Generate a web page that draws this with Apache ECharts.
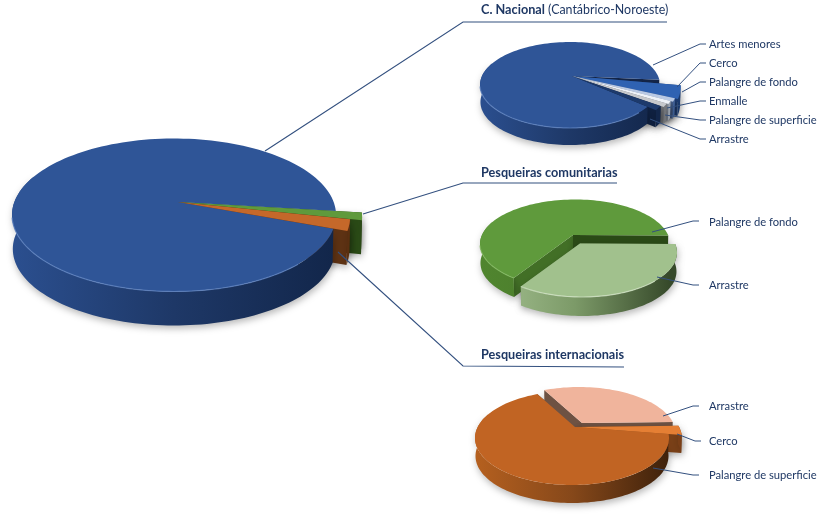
<!DOCTYPE html>
<html><head><meta charset="utf-8">
<style>html,body{margin:0;padding:0;background:#fff}#c{width:824px;height:514px}</style>
<script src="https://cdn.jsdelivr.net/npm/echarts@6/dist/echarts.min.js"></script>
</head><body><div id="c"></div>
<script>
// ---------- data ----------
const mainCategories = ['Pesqueiras comunitarias', 'Pesqueiras internacionais', 'C. Nacional'];
const mainValues = [1.4, 2.3, 96.3];
const nacionalCategories = ['Cerco', 'Palangre de fondo', 'Enmalle', 'Palangre de superficie', 'Arrastre', 'Artes menores'];
const nacionalValues = [5.5, 1.1, 1.0, 1.2, 1.6, 89.6];
const comunitariasCategories = ['Arrastre', 'Palangre de fondo'];
const comunitariasValues = [39.2, 60.8];
const internacionaisCategories = ['Arrastre', 'Cerco', 'Palangre de superficie'];
const internacionaisValues = [26.7, 2.8, 70.5];

// ---------- styles / layout ----------
const BL = {top:'#2f5597', wall:['#2b4f8f','#1e3867','#12264a'], edge:'#14264a', rim:'#5f83c0'};
const pies = [
 {name:'main', cats:mainCategories, vals:mainValues, start:-3,
  cx:174, cy:215, rx:162, ry:76.5, ax:178, ay:202, depth:34,
  looks:[
   {top:'#5f9a3c', wall:['#2f5019','#2b4a17','#264213'], edge:'#2a4a16', reach:1.165},
   {top:'#c5682a', wall:['#6a3714','#5f3211','#5a2f10'], edge:'#5e3213', reach:1.09},
   {...BL}]},
 {name:'nacional', cats:nacionalCategories, vals:nacionalValues, start:-7,
  cx:570, cy:85, rx:90, ry:43, ax:572, ay:76, depth:17,
  looks:[
   {top:'#2f62b2', wall:['#1d3f78','#1d3f78','#1b3a6d'], edge:'#1f4079', reach:1.235, pad:5},
   {top:'#b9c9e4', wall:['#3f5f95','#3f5f95','#3f5f95'], edge:'#47618f', reach:1.2},
   {top:'#eef2f8', wall:['#9fa7b3','#9fa7b3','#9fa7b3'], edge:'#8f98a6', reach:1.17},
   {top:'#c6c8cc', wall:['#74777c','#74777c','#74777c'], edge:'#74777c', reach:1.15},
   {top:'#1d3a6c', wall:['#12264a','#12264a','#12264a'], edge:'#0f2142', reach:1.11},
   {...BL}]},
 {name:'comunitarias', cats:comunitariasCategories, vals:comunitariasValues, start:-11,
  cx:575, cy:244, rx:95, ry:44.5, ax:573, ay:235, depth:19,
  looks:[
   {top:'#a1c18d', wall:['#a6c293','#7c9a68','#36492a'], edge:'#6d8a5a', rim:'#d3e4c7', off:[7,8.5]},
   {top:'#5f9a3c', wall:['#50852f','#4a7a2b','#3d6a22'], edge:'#2a4a16', edge2:'#426f26', rim:'#86bb64'}]},
 {name:'internacionais', cats:internacionaisCategories, vals:internacionaisValues, start:249,
  cx:572, cy:438, rx:97, ry:47, ax:575, ay:427, depth:18,
  looks:[
   {top:'#f0b49c', wall:['#6e5243','#6e5243','#6e5243'], edge:'#6e5243', off:[7,-4]},
   {top:'#e57f34', wall:['#8a4a1a','#83451a','#7a3f17'], edge:'#7a4017', reach:1.14},
   {top:'#c16423', wall:['#b5601f','#86481a','#3e210b'], edge:'#5b3010', rim:'#e2935a'}]}
];
const titles = [
 {bold:'C. Nacional', rest:' (Cantábrico-Noroeste)', x:481, y:10, line:[[265,151],[463,22],[667,22]]},
 {bold:'Pesqueiras comunitarias', rest:'', x:481, y:173, line:[[363,214],[463,183],[617,183]]},
 {bold:'Pesqueiras internacionais', rest:'', x:481, y:355, line:[[338,252],[463,366],[624,367]]}
];
// category label → [text y, leader start, elbow]
const labels = [
 {cats:nacionalCategories, items:{
  'Artes menores':[44,[653,65],[700,44]], 'Cerco':[63,[677,87],[700,63]],
  'Palangre de fondo':[82,[682,92],[700,82]], 'Enmalle':[101,[667,108],[700,101]],
  'Palangre de superficie':[120,[665,115],[700,120]], 'Arrastre':[139,[650,119],[700,139]]}},
 {cats:comunitariasCategories, items:{
  'Palangre de fondo':[222,[652,232],[693,221]], 'Arrastre':[285,[657,277],[693,285]]}},
 {cats:internacionaisCategories, items:{
  'Arrastre':[406,[663,416],[693,406]], 'Cerco':[441,[677,434],[695,441]],
  'Palangre de superficie':[475,[653,468],[693,475]]}}
];
const INK = '#1f3864', LINE = '#33507f';

// ---------- geometry ----------
const rad = d => d * Math.PI / 180;
pies.forEach(p => {
  const total = p.vals.reduce((a, b) => a + b, 0);
  let a = p.start;
  p.spans = p.vals.map(v => { const s = [a, a + v / total * 360]; a = s[1]; return s; });
  p.big = p.vals.indexOf(Math.max(...p.vals));
});
function pt(p, k, deg, down) {
  const L = p.looks[k], f = L.reach || 1, o = L.off || [0, 0];
  const rx = p.cx + p.rx * Math.cos(rad(deg)), ry = p.cy + p.ry * Math.sin(rad(deg));
  let x = p.ax + f * (rx - p.ax) + o[0], y = p.ay + f * (ry - p.ay) + o[1];
  if (down) { x = p.cx + (x - p.cx) * 0.995; y += p.depth; }
  return [x, y];
}
function apex(p, k, down) {
  const o = p.looks[k].off || [0, 0];
  return [p.ax + o[0], p.ay + o[1] + (down ? p.depth : 0)];
}
function arc(p, k, a, b, down) {
  const out = [], n = Math.max(2, Math.ceil((b - a) / 2));
  for (let i = 0; i <= n; i++) out.push(pt(p, k, a + (b - a) * i / n, down));
  return out;
}
function span(p, k) { const s = p.spans[k]; return [s[0] + (p.looks[k].pad || 0), s[1]]; }
function wallFill(p, k) {
  const w = p.looks[k].wall;
  return {type:'linear', x:p.cx - p.rx, y:0, x2:p.cx + p.rx, y2:0, global:true,
    colorStops:[{offset:0,color:w[0]},{offset:.5,color:w[1]},{offset:1,color:w[2]}]};
}
const SHADOW = {shadowColor:'rgba(0,0,0,0.28)', shadowBlur:7, shadowOffsetY:3, shadowOffsetX:1};

function radialPart(p, k) {
  const [a, b] = span(p, k), L = p.looks[k], kids = [];
  [[a, L.edge2 || L.edge], [b, L.edge]].forEach(([d, col]) => {
    kids.push({type:'polygon', shape:{points:[apex(p,k,false), pt(p,k,d,false), pt(p,k,d,true), apex(p,k,true)]},
      style:{fill:col, ...SHADOW}});
  });
  return {type:'group', children:kids};
}
function outerPart(p, k) {
  const [a, b] = span(p, k), kids = [];
  const windows = a >= 330 ? [[330, 570]] : [[-30, 210]];
  windows.forEach(([lo, hi]) => {
    const s = Math.max(a, lo), e = Math.min(b, hi);
    if (e <= s) return;
    const pts = arc(p, k, s, e, false).concat(arc(p, k, s, e, true).reverse());
    kids.push({type:'polygon', shape:{points:pts}, style:{fill:wallFill(p, k), ...SHADOW}});
  });
  return {type:'group', children:kids};
}
function topPart(p, k) {
  const [a, b] = span(p, k), L = p.looks[k], kids = [];
  kids.push({type:'polygon', shape:{points:[apex(p,k,false)].concat(arc(p,k,a,b,false))}, style:{fill:L.top}});
  if (L.rim) {
    const s = Math.max(a, 40), e = Math.min(b, 178);
    if (e > s) kids.push({type:'polyline', shape:{points:arc(p,k,s,e,false)},
      style:{fill:null, stroke:L.rim, lineWidth:1.2, opacity:.75}});
  }
  return {type:'group', children:kids};
}
const renderers = {radial:radialPart, outer:outerPart, top:topPart};
function orderFor(p, pass) {
  const rest = p.vals.map((_, i) => i).filter(i => i !== p.big);
  return pass === 'outer' ? rest.concat(p.big) : [p.big].concat(rest);
}

// ---------- series ----------
const series = [];
let zz = 1;
pies.forEach(p => {
  ['radial', 'outer', 'top'].forEach(pass => {
    series.push({
      type:'custom', name:p.name + '-' + pass, coordinateSystem:'none', silent:true, animation:false, z:zz++,
      data:orderFor(p, pass).map(i => ({name:p.cats[i], value:[i, p.vals[i]]})),
      renderItem:(params, api) => renderers[pass](p, api.value(0))
    });
  });
});

// ---------- leaders and labels ----------
const elements = [];
titles.forEach(t => {
  elements.push({type:'polyline', z:200, shape:{points:t.line}, style:{fill:null, stroke:LINE, lineWidth:1.1}});
  elements.push({type:'text', z:201, x:t.x, y:t.y, style:{
    text:'{b|' + t.bold + '}' + (t.rest ? '{r|' + t.rest + '}' : ''),
    rich:{b:{fontWeight:'bold', fontSize:12.7, fontFamily:'Lato', color:INK},
          r:{fontSize:12.4, fontFamily:'Lato', color:INK}},
    verticalAlign:'middle', fill:INK}});
});
labels.forEach(g => g.cats.forEach(c => {
  const [y, from, elbow] = g.items[c];
  elements.push({type:'polyline', z:200, shape:{points:[from, elbow, [elbow[0] + 6, elbow[1]]]},
    style:{fill:null, stroke:LINE, lineWidth:1}});
  elements.push({type:'text', z:201, x:709, y:y, style:{text:c, fill:INK, fontSize:11.2, fontFamily:'Lato', verticalAlign:'middle'}});
}));

const chart = echarts.init(document.getElementById('c'), null, {renderer:'canvas', width:824, height:514});
chart.setOption({backgroundColor:'#fff', animation:false, series, graphic:{elements}});
</script></body></html>
